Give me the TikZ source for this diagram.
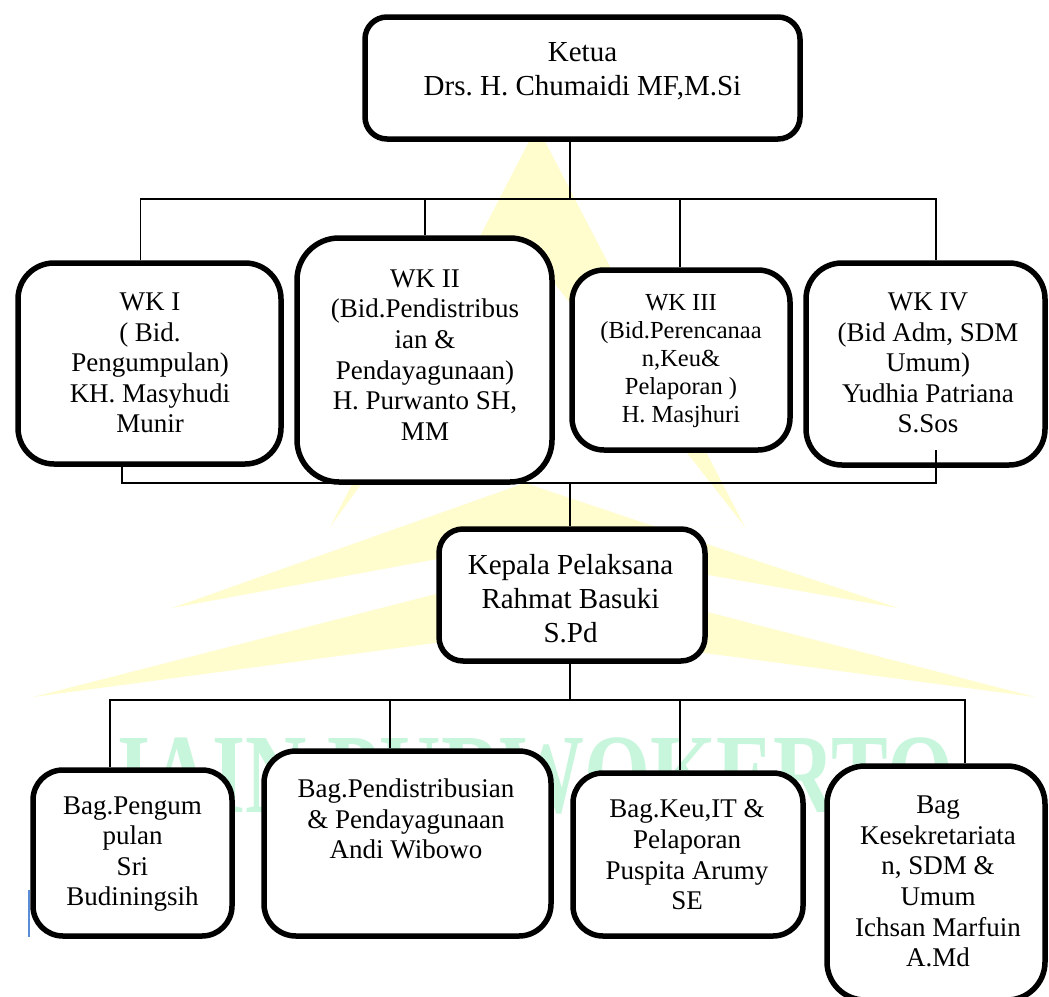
\documentclass[tikz,border=0pt]{standalone}
\usepackage{tikz}
\usepackage{fontspec}
\setmainfont{Liberation Serif}
\frenchspacing
\definecolor{wmyellow}{RGB}{255,252,206}
\definecolor{wmgreen}{RGB}{200,246,220}
\definecolor{cursorblue}{RGB}{90,140,215}
\tikzset{
  orgbox/.style={draw=black, line width=5.5pt, fill=white, rectangle, inner sep=0pt},
  txt/.style={align=center, inner sep=0pt, font=\fontsize{27}{30.6}\selectfont},
  bigtxt/.style={align=center, inner sep=0pt, font=\fontsize{29}{34}\selectfont},
  smalltxt/.style={align=center, inner sep=0pt, font=\fontsize{24.5}{28}\selectfont},
  conn/.style={draw=black, line width=1.3pt},
  wmtext/.style={inner sep=0pt, text=wmgreen, font=\fontsize{113}{113}\selectfont\bfseries},
}
\begin{document}
\begin{tikzpicture}[x=1pt,y=-1pt]
\useasboundingbox (0,0) rectangle (1049,996);
\clip (0,0) rectangle (1049,996);
\fill[white] (0,0) rectangle (1049,996);

% watermark
\fill[wmyellow, even odd rule] (537,126) -- (330,527) -- (745,527) -- cycle
      (530,252) -- (330,527) -- (745,527) -- cycle;
\fill[wmyellow] (172,608) -- (525,483) -- (898,608) -- (524,543) -- cycle;
\fill[wmyellow] (33,697) -- (538,568) -- (1035,697) -- (532,630) -- cycle;
\node[wmtext, anchor=base] (wm) at (535.5,812) {\scalebox{0.752}[1]{IAIN PURWOKERTO}};

% boxes
\node[orgbox, minimum width=435pt, minimum height=122pt, rounded corners=22pt] (ketua) at (582.5,78) {};
\node[orgbox, minimum width=263pt, minimum height=201pt, rounded corners=36pt] (wk1) at (149.5,363.5) {};
\node[orgbox, minimum width=255pt, minimum height=244pt, rounded corners=42pt] (wk2) at (424.5,360) {};
\node[orgbox, minimum width=218pt, minimum height=180pt, rounded corners=32pt] (wk3) at (681,360) {};
\node[orgbox, minimum width=239pt, minimum height=202pt, rounded corners=36pt] (wk4) at (925.5,364) {};
\node[orgbox, minimum width=266pt, minimum height=132pt, rounded corners=24pt] (kepala) at (572,595) {};
\node[orgbox, minimum width=199pt, minimum height=166pt, rounded corners=30pt] (bag1) at (132.5,853) {};
\node[orgbox, minimum width=287pt, minimum height=185pt, rounded corners=32pt] (bag2) at (407.5,843.5) {};
\node[orgbox, minimum width=230pt, minimum height=163pt, rounded corners=30pt] (bag3) at (688,854.5) {};
\node[orgbox, minimum width=218pt, minimum height=234pt, rounded corners=38pt] (bag4) at (936,883) {};

% texts
\node[bigtxt] (ketua-t) at (582.5,71) {Ketua\\Drs. H. Chumaidi MF,M.Si};
\node[txt] (wk1-t) at (150,363) {WK I\\( Bid.\\Pengumpulan)\\KH. Masyhudi\\Munir};
\node[txt] (wk2-t) at (425,355) {WK II\\(Bid.Pendistribus\\ian \&\\Pendayagunaan)\\H. Purwanto SH,\\MM};
\node[smalltxt] (wk3-t) at (681,361) {WK III\\(Bid.Perencanaa\\n,Keu\&\\Pelaporan )\\H. Masjhuri};
\node[txt] (wk4-t) at (928,363) {WK IV\\(Bid Adm, SDM\\Umum)\\Yudhia Patriana\\S.Sos};
\node[bigtxt] (kepala-t) at (570.5,599) {Kepala Pelaksana\\Rahmat Basuki\\S.Pd};
\node[txt] (bag1-t) at (132.5,854) {Bag.Pengum\\pulan\\Sri\\Budiningsih};
\node[txt] (bag2-t) at (406,819) {Bag.Pendistribusian\\\& Pendayagunaan\\Andi Wibowo};
\node[txt] (bag3-t) at (687,855) {Bag.Keu,IT \&\\Pelaporan\\Puspita Arumy\\SE};
\node[txt] (bag4-t) at (938,881.5) {Bag\\Kesekretariata\\n, SDM \&\\Umum\\Ichsan Marfuin\\A.Md};

% connector points
\coordinate (kj) at (570,199);
\coordinate (b1) at (140.5,199);
\coordinate (b2) at (425,199);
\coordinate (b3) at (680,199);
\coordinate (b4) at (936,199);
\coordinate (c1) at (122,483);
\coordinate (c4) at (936,483);
\coordinate (cm) at (570,483);
\coordinate (w4in) at (936,450);
\coordinate (kj2) at (570,700);
\coordinate (d1) at (110,700);
\coordinate (d2) at (390,700);
\coordinate (d3) at (680,700);
\coordinate (d4) at (965,700);

% connectors
\draw[conn] (ketua.south -| kj) -- (kj);
\draw[conn] (wk1.north -| b1) -- (b1) -- (b4) -- (wk4.north -| b4);
\draw[conn] (b2) -- (wk2.north -| b2);
\draw[conn] (b3) -- (wk3.north -| b3);
\draw[conn] (wk1.south -| c1) -- (c1) -- (c4) -- (w4in);
\draw[conn] (cm) -- (kepala.north -| cm);
\draw[conn] (kepala.south -| kj2) -- (kj2);
\draw[conn] (bag1.north -| d1) -- (d1) -- (d4) -- (bag4.north -| d4);
\draw[conn] (d2) -- (bag2.north -| d2);
\draw[conn] (d3) -- (bag3.north -| d3);

% text cursor mark
\coordinate (cur1) at (29,890);
\coordinate (cur2) at (29,937);
\draw[cursorblue, line width=1.5pt] (cur1) -- (cur2);
\end{tikzpicture}
\end{document}
